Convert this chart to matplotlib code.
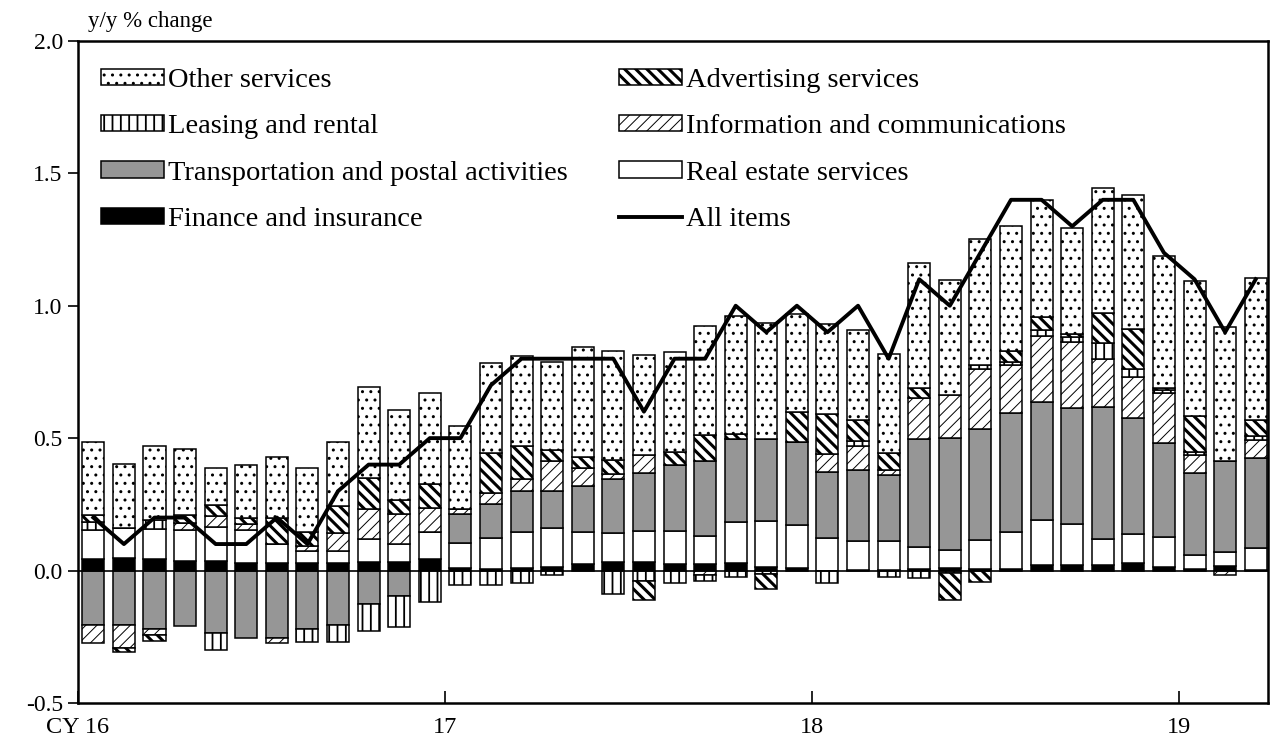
import matplotlib
matplotlib.use("Agg")
from matplotlib import pyplot as plt
import numpy as np

plt.rcParams['font.family'] = ['Liberation Serif', 'DejaVu Serif']

# monthly, Jan 2016 .. Mar 2019
finance = [0.044, 0.049, 0.044, 0.037, 0.037, 0.028, 0.028, 0.030, 0.030, 0.034, 0.034, 0.044,
           0.010, 0.005, 0.010, 0.015, 0.026, 0.031, 0.031, 0.023, 0.023, 0.027, 0.013, 0.010,
           0.000, 0.003, 0.003, 0.004, 0.010, 0.004, 0.005, 0.020, 0.020, 0.020, 0.028, 0.014,
           0.007, 0.016, 0.003]
real_estate = [0.110, 0.110, 0.112, 0.117, 0.127, 0.126, 0.071, 0.042, 0.042, 0.084, 0.065, 0.101,
               0.095, 0.119, 0.136, 0.147, 0.120, 0.109, 0.119, 0.127, 0.107, 0.158, 0.174, 0.162,
               0.124, 0.107, 0.107, 0.084, 0.068, 0.110, 0.140, 0.170, 0.157, 0.100, 0.111, 0.113,
               0.050, 0.054, 0.083]
transport = [-0.205, -0.205, -0.222, -0.211, -0.237, -0.253, -0.253, -0.222, -0.205, -0.126, -0.096, 0.0,
             0.109, 0.126, 0.156, 0.140, 0.172, 0.204, 0.217, 0.250, 0.283, 0.310, 0.310, 0.314,
             0.249, 0.268, 0.252, 0.407, 0.424, 0.419, 0.451, 0.448, 0.438, 0.497, 0.438, 0.356,
             0.310, 0.343, 0.340]
info = [-0.070, -0.088, -0.020, 0.025, 0.042, 0.020, -0.021, 0.022, 0.069, 0.114, 0.115, 0.090,
        0.019, 0.042, 0.044, 0.111, 0.070, 0.022, 0.069, 0.0, -0.018, 0.0, 0.0, 0.0,
        0.068, 0.092, 0.019, 0.157, 0.160, 0.227, 0.179, 0.248, 0.248, 0.180, 0.154, 0.188,
        0.070, -0.018, 0.067]
leasing = [0.031, 0.0, 0.035, 0.0, -0.063, 0.0, 0.0, -0.046, -0.063, -0.104, -0.118, -0.117,
           -0.053, -0.055, -0.047, -0.015, 0.0, -0.087, -0.038, -0.047, -0.020, -0.025, -0.013, 0.0,
           -0.047, 0.019, -0.025, -0.028, -0.008, 0.015, 0.012, 0.023, 0.019, 0.063, 0.029, 0.012,
           0.012, 0.0, 0.015]
advertising = [0.023, -0.015, -0.024, 0.030, 0.042, 0.024, 0.099, 0.053, 0.104, 0.117, 0.053, 0.092,
               0.0, 0.150, 0.124, 0.042, 0.040, 0.050, -0.075, 0.049, 0.098, 0.019, -0.056, 0.114,
               0.149, 0.081, 0.063, 0.038, -0.105, -0.043, 0.042, 0.050, 0.010, 0.114, 0.151, 0.008,
               0.135, 0.0, 0.060]
other = [0.279, 0.243, 0.280, 0.249, 0.138, 0.202, 0.232, 0.239, 0.242, 0.343, 0.340, 0.345,
         0.312, 0.343, 0.340, 0.333, 0.415, 0.413, 0.377, 0.377, 0.412, 0.447, 0.439, 0.367,
         0.340, 0.340, 0.372, 0.472, 0.434, 0.476, 0.471, 0.441, 0.400, 0.472, 0.509, 0.495,
         0.509, 0.505, 0.535]
all_items = [0.2, 0.1, 0.2, 0.2, 0.1, 0.1, 0.2, 0.1, 0.3, 0.4, 0.4, 0.5,
             0.5, 0.7, 0.8, 0.8, 0.8, 0.8, 0.6, 0.8, 0.8, 1.0, 0.9, 1.0,
             0.9, 1.0, 0.8, 1.1, 1.0, 1.2, 1.4, 1.4, 1.3, 1.4, 1.4, 1.2,
             1.1, 0.9, 1.1]
year_labels = ["CY 16", "17", "18", "19"]

x = np.arange(len(all_items))

fig = plt.figure(figsize=(12.71, 7.51), dpi=100)
ax = fig.add_axes([0.0614, 0.064, 0.9362, 0.8815])

series = [
    ("Finance and insurance", finance, dict(facecolor="black", hatch=None)),
    ("Real estate services", real_estate, dict(facecolor="white", hatch=None)),
    ("Transportation and postal activities", transport, dict(facecolor="#969696", hatch=None)),
    ("Information and communications", info, dict(facecolor="white", hatch="///", hl=0.7)),
    ("Leasing and rental", leasing, dict(facecolor="white", hatch="||", hl=1.3)),
    ("Advertising services", advertising, dict(facecolor="white", hatch="\\\\\\", hl=2.2)),
    ("Other services", other, dict(facecolor="white", hatch="..", hl=1.0)),
]
hatch_lw = {name: st.get("hl", 1.0) for name, _, st in series}

pos = np.zeros(len(x))
neg = np.zeros(len(x))
handles = {}
for name, vals, st in series:
    v = np.array(vals)
    bottom = np.where(v >= 0, pos, neg)
    hl = hatch_lw[name]
    with plt.rc_context({'hatch.linewidth': hl}):
        b = ax.bar(x, v, 0.72, bottom=bottom, facecolor=st["facecolor"],
                   edgecolor="black", linewidth=1.1, hatch=st["hatch"], label=name, zorder=2)
        for p in b.patches:
            if hasattr(p, "set_hatch_linewidth"):
                p.set_hatch_linewidth(hl)
    handles[name] = b
    pos = pos + np.where(v > 0, v, 0)
    neg = neg + np.where(v < 0, v, 0)

line, = ax.plot(x, all_items, color="black", linewidth=2.8, zorder=4, label="All items")
ax.axhline(0, color="black", linewidth=1.2, zorder=3)

ax.set_ylim(-0.5, 2.0)
ax.set_xlim(-0.5, 38.4)
ax.set_yticks([-0.5, 0.0, 0.5, 1.0, 1.5, 2.0])
ax.set_yticklabels(["-0.5", "0.0", "0.5", "1.0", "1.5", "2.0"])
ax.set_xticks([-0.5, 11.5, 23.5, 35.5])
ax.set_xticklabels(year_labels)
ax.tick_params(axis="y", direction="out", length=7, width=1.2, labelsize=17, pad=4)
ax.tick_params(axis="x", direction="in", length=9, width=1.2, labelsize=17.5, pad=10)
for s in ax.spines.values():
    s.set_linewidth(1.8)

fig.text(0.069, 0.958, "y/y % change", fontsize=16.5, ha="left", va="bottom")

order = ["Other services", "Leasing and rental", "Transportation and postal activities",
         "Finance and insurance", "Advertising services", "Information and communications",
         "Real estate services"]
h = [handles[n] for n in order] + [line]
labels = order + ["All items"]
leg = ax.legend(h, labels, ncol=2, loc="upper left", bbox_to_anchor=(0.005, 0.985), frameon=False,
                fontsize=20.5, handlelength=2.2, handleheight=0.5, handletextpad=0.15,
                columnspacing=1.8, labelspacing=0.75, borderaxespad=0.2)
for name, hp in zip(labels, leg.legend_handles):
    if name in hatch_lw and hasattr(hp, "set_hatch_linewidth"):
        hp.set_hatch_linewidth(hatch_lw[name])

plt.savefig("out.png", dpi=100)
